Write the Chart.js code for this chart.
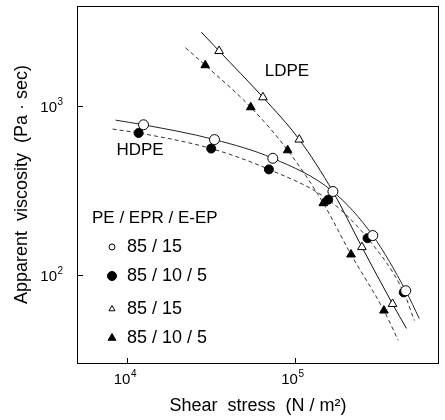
<!DOCTYPE html>
<html>
<head>
<meta charset="utf-8">
<script src="https://cdn.jsdelivr.net/npm/chart.js@4/dist/chart.umd.min.js"></script>
<style>
  html, body { margin: 0; padding: 0; background: #fff; }
  #wrap { width: 445px; height: 420px; }
</style>
</head>
<body>
<div id="wrap"><canvas id="chart"></canvas></div>
<script>
// Measured points, shear stress (N/m2) vs apparent viscosity (Pa.sec)
const hdpeOpenX = [12480, 33100, 73800, 168600, 291700, 458700];
const hdpeOpenY = [776, 634, 491, 312, 171, 80.5];
const hdpeFilledX = [11660, 31640, 69960, 158100, 271400, 446400];
const hdpeFilledY = [694, 561, 422, 279, 165, 78.7];
const ldpeOpenX = [35270, 64420, 106200, 251300, 382800];
const ldpeOpenY = [2126, 1130, 634, 146, 67.2];
const ldpeFilledX = [29160, 54520, 90560, 147700, 216300, 340100];
const ldpeFilledY = [1750, 986, 548, 266, 132, 61.4];

// Fitted curves
const hdpeOpenCurveX = [8496, 12480, 33100, 73800, 168600, 291700, 458700, 552600];
const hdpeOpenCurveY = [827, 776, 634, 491, 312, 171, 80.5, 55.1];
const hdpeFilledCurveX = [8155, 11660, 31640, 69960, 158100, 271400, 446400, 516400];
const hdpeFilledCurveY = [732, 694, 561, 422, 279, 165, 78.7, 53.6];
const ldpeOpenCurveX = [27620, 35270, 64420, 106200, 168600, 251300, 382800, 463200];
const ldpeOpenCurveY = [2750, 2126, 1130, 634, 312, 146, 67.2, 48.1];
const ldpeFilledCurveX = [22220, 29160, 54520, 90560, 147700, 216300, 340100, 413700];
const ldpeFilledCurveY = [2223, 1750, 986, 548, 266, 132, 61.4, 40.9];

// Axis ticks
const xTickValues = [1e4, 1e5];
const xTickExponents = ['4', '5'];
const yTickValues = [1e2, 1e3];
const yTickExponents = ['2', '3'];

// Legend
const legendTitle = 'PE / EPR / E-EP';
const legendLabels = ['85 / 15', '85 / 10 / 5', '85 / 15', '85 / 10 / 5'];

const FONT = "'Liberation Sans', Arial, sans-serif";

function pts(xs, ys) {
    return xs.map((x, i) => ({ x: x, y: ys[i] }));
}

function markerSet(label, xs, ys, style, filled, radius) {
    return {
        label: label,
        data: pts(xs, ys),
        showLine: false,
        pointStyle: style,
        pointRadius: radius,
        pointBorderWidth: 1,
        pointBorderColor: '#000',
        pointBackgroundColor: filled ? '#000' : '#fff',
        order: 0
    };
}

function curveSet(xs, ys, dash, color) {
    return {
        data: pts(xs, ys),
        showLine: true,
        pointRadius: 0,
        borderColor: color,
        borderWidth: 1,
        borderDash: dash,
        cubicInterpolationMode: 'monotone',
        fill: false,
        order: 1
    };
}

// Frame, inward tick marks, superscript tick labels, text labels and legend
const decorPlugin = {
    id: 'decor',
    afterDraw(chart) {
        const ctx = chart.ctx;
        const a = chart.chartArea;
        const xs = chart.scales.x;
        const ys = chart.scales.y;
        ctx.save();

        // frame
        ctx.strokeStyle = '#000';
        ctx.lineWidth = 1;
        ctx.strokeRect(a.left + 0.5, a.top + 0.5, a.right - a.left - 1, a.bottom - a.top);

        // tick marks pointing inward
        ctx.beginPath();
        xTickValues.forEach(v => {
            const px = Math.round(xs.getPixelForValue(v)) + 0.5;
            ctx.moveTo(px, a.bottom);
            ctx.lineTo(px, a.bottom - 5);
        });
        yTickValues.forEach(v => {
            const py = Math.round(ys.getPixelForValue(v)) + 0.5;
            ctx.moveTo(a.left, py);
            ctx.lineTo(a.left + 6, py);
        });
        ctx.stroke();

        // tick labels 10^n
        ctx.fillStyle = '#000';
        ctx.textBaseline = 'alphabetic';
        xTickValues.forEach((v, i) => {
            const px = xs.getPixelForValue(v);
            ctx.font = '15px ' + FONT;
            ctx.textAlign = 'right';
            ctx.fillText('10', px + 3, a.bottom + 21);
            ctx.font = '10px ' + FONT;
            ctx.textAlign = 'left';
            ctx.fillText(xTickExponents[i], px + 3.5, a.bottom + 14);
        });
        yTickValues.forEach((v, i) => {
            const py = ys.getPixelForValue(v);
            ctx.font = '15px ' + FONT;
            ctx.textAlign = 'right';
            ctx.fillText('10', a.left - 20, py + 6);
            ctx.font = '10px ' + FONT;
            ctx.textAlign = 'left';
            ctx.fillText(yTickExponents[i], a.left - 19.5, py - 1);
        });

        // curve labels
        ctx.font = '17px ' + FONT;
        ctx.textAlign = 'center';
        ctx.textBaseline = 'middle';
        ctx.fillText('LDPE', 287, 71);
        ctx.fillText('HDPE', 140, 150);

        // legend
        ctx.textAlign = 'left';
        ctx.fillText(legendTitle, 92, 218);
        ctx.font = '18px ' + FONT;
        const rows = [247, 276, 309, 338];
        const styles = [
            { s: 'circle', r: 3, fill: '#fff' },
            { s: 'circle', r: 4.5, fill: '#000' },
            { s: 'triangle', r: 3.5, fill: '#fff' },
            { s: 'triangle', r: 4.5, fill: '#000' }
        ];
        rows.forEach((y, i) => {
            ctx.fillStyle = styles[i].fill;
            ctx.strokeStyle = '#000';
            ctx.lineWidth = 1;
            Chart.helpers.drawPoint(ctx, { pointStyle: styles[i].s, radius: styles[i].r, rotation: 0, borderWidth: 1 }, 112, y);
            ctx.fillStyle = '#000';
            ctx.fillText(legendLabels[i], 127, y);
        });

        ctx.restore();
    }
};

let ctx = document.getElementById('chart');

new Chart(ctx, {
    type: 'scatter',
    data: {
        datasets: [
            markerSet('HDPE 85/15', hdpeOpenX, hdpeOpenY, 'circle', false, 5),
            markerSet('HDPE 85/10/5', hdpeFilledX, hdpeFilledY, 'circle', true, 4.5),
            markerSet('LDPE 85/15', ldpeOpenX, ldpeOpenY, 'triangle', false, 5),
            markerSet('LDPE 85/10/5', ldpeFilledX, ldpeFilledY, 'triangle', true, 5),
            curveSet(hdpeOpenCurveX, hdpeOpenCurveY, [], '#222'),
            curveSet(hdpeFilledCurveX, hdpeFilledCurveY, [4, 3], '#333'),
            curveSet(ldpeOpenCurveX, ldpeOpenCurveY, [], '#111'),
            curveSet(ldpeFilledCurveX, ldpeFilledCurveY, [4, 3], '#333')
        ]
    },
    options: {
        responsive: true,
        maintainAspectRatio: false,
        animation: false,
        layout: {
            padding: { top: 3, right: 2, left: 0, bottom: 0 }
        },
        plugins: {
            legend: { display: false },
            tooltip: { enabled: false }
        },
        scales: {
            x: {
                type: 'logarithmic',
                min: 5000,
                max: 725000,
                bounds: 'data',
                grid: { display: false },
                border: { display: false },
                ticks: { display: false },
                afterBuildTicks: axis => { axis.ticks = xTickValues.map(v => ({ value: v })); },
                afterFit: axis => { axis.height = 57; },
                title: {
                    display: true,
                    text: 'Shear  stress  (N / m²)',
                    color: '#000',
                    font: { family: FONT, size: 18 },
                    padding: { top: 0, bottom: 3 }
                }
            },
            y: {
                type: 'logarithmic',
                min: 30,
                max: 3930,
                bounds: 'data',
                grid: { display: false },
                border: { display: false },
                ticks: { display: false },
                afterBuildTicks: axis => { axis.ticks = yTickValues.map(v => ({ value: v })); },
                afterFit: axis => { axis.width = 77; },
                title: {
                    display: true,
                    text: 'Apparent  viscosity  (Pa · sec)',
                    color: '#000',
                    font: { family: FONT, size: 18 },
                    padding: { top: 11, bottom: 0 }
                }
            }
        }
    },
    plugins: [decorPlugin]
});
</script>
</body>
</html>
